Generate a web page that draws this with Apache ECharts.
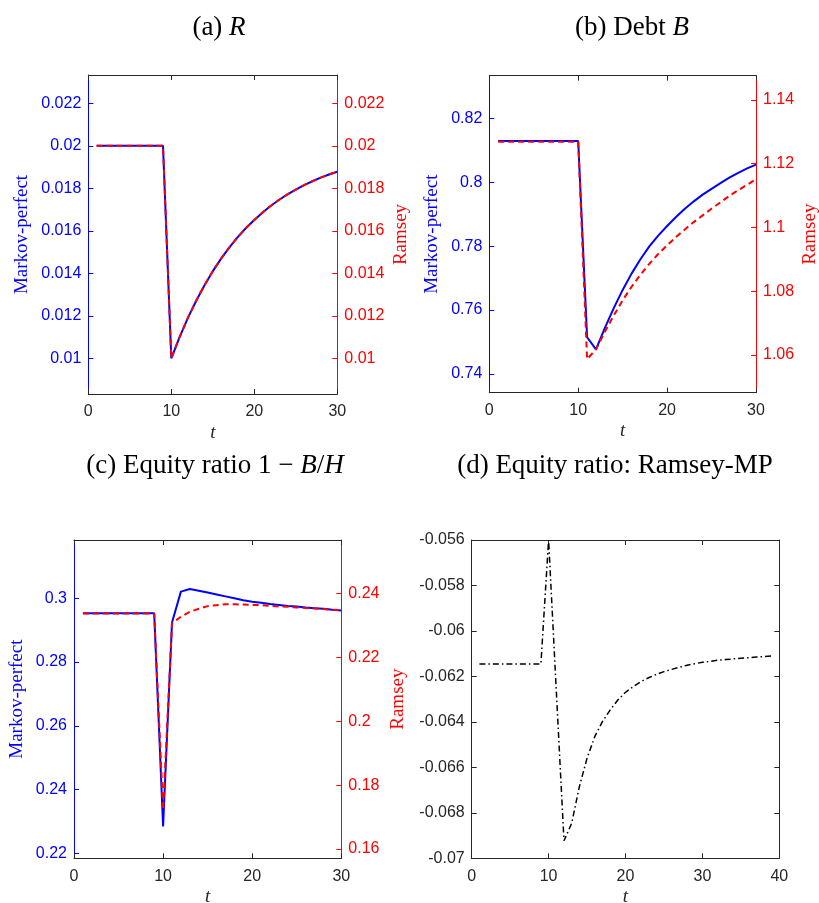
<!DOCTYPE html>
<html>
<head>
<meta charset="utf-8">
<script src="https://cdn.jsdelivr.net/npm/echarts@6/dist/echarts.min.js"></script>
<style>html,body{margin:0;padding:0;background:#fff}#c{width:819px;height:903px}</style>
</head>
<body>
<div id="c"></div>
<script>
// ---- data ----
var t30 = [1,2,3,4,5,6,7,8,9,10,11,12,13,14,15,16,17,18,19,20,21,22,23,24,25,26,27,28,29,30];
var t39 = [1,2,3,4,5,6,7,8,9,10,11,12,13,14,15,16,17,18,19,20,21,22,23,24,25,26,27,28,29,30,31,32,33,34,35,36,37,38,39];

var rMP = [0.02,0.02,0.02,0.02,0.02,0.02,0.02,0.02,0.02,0.0100,0.0110,0.0119,0.01271,0.01344,0.01410,0.01469,0.01522,0.01570,0.01613,0.01651,0.01686,0.01718,0.01746,0.01771,0.01794,0.01815,0.01833,0.01850,0.01865,0.01878];
var rRamsey = [0.02,0.02,0.02,0.02,0.02,0.02,0.02,0.02,0.02,0.0100,0.0110,0.0119,0.01271,0.01344,0.01410,0.01469,0.01522,0.01570,0.01613,0.01651,0.01686,0.01718,0.01746,0.01771,0.01794,0.01815,0.01833,0.01850,0.01865,0.01878];

var bMP = [0.8129,0.8129,0.8129,0.8129,0.8129,0.8129,0.8129,0.8129,0.8129,0.8129,0.7515,0.7477,0.7544,0.7606,0.7663,0.7714,0.7759,0.7799,0.7833,0.7863,0.7891,0.7917,0.7940,0.7961,0.7979,0.7997,0.8014,0.8029,0.8043,0.8055];
var bRamsey = [1.1269,1.1269,1.1269,1.1269,1.1269,1.1269,1.1269,1.1269,1.1269,1.1269,1.0587,1.0618,1.0673,1.0724,1.0772,1.0814,1.0852,1.0886,1.0917,1.0944,1.0970,1.0994,1.1017,1.1038,1.1059,1.1079,1.1099,1.1117,1.1134,1.1151];

var eMP = [0.2953,0.2953,0.2953,0.2953,0.2953,0.2953,0.2953,0.2953,0.2953,0.2284,0.2924,0.3021,0.3029,0.3024,0.3018,0.3012,0.3006,0.3000,0.2994,0.2989,0.2986,0.2982,0.2979,0.2976,0.2974,0.2971,0.2969,0.2967,0.2964,0.2962];
var eRamsey = [0.2337,0.2337,0.2337,0.2337,0.2337,0.2337,0.2337,0.2337,0.2337,0.1722,0.2306,0.2327,0.2342,0.2352,0.2360,0.2363,0.2366,0.2366,0.2365,0.2364,0.2363,0.2361,0.2359,0.2358,0.2356,0.2354,0.2353,0.2351,0.2349,0.2348];

var eDiff = [-0.06145,-0.06145,-0.06145,-0.06145,-0.06145,-0.06145,-0.06145,-0.06145,-0.06145,-0.0560,-0.06262,-0.06923,-0.06846,-0.06685,-0.06560,-0.06465,-0.06399,-0.06348,-0.06304,-0.06270,-0.06245,-0.06223,-0.06206,-0.06191,-0.06179,-0.06169,-0.06160,-0.06151,-0.06144,-0.06138,-0.06134,-0.06129,-0.06126,-0.06123,-0.06120,-0.06118,-0.06115,-0.06113,-0.06110];

// tick labels
var xTicks30 = [0,10,20,30];
var xTicks40 = [0,10,20,30,40];
var aTicks = [0.01,0.012,0.014,0.016,0.018,0.02,0.022];
var bTicksL = [0.74,0.76,0.78,0.8,0.82];
var bTicksR = [1.06,1.08,1.1,1.12,1.14];
var cTicksL = [0.22,0.24,0.26,0.28,0.3];
var cTicksR = [0.16,0.18,0.2,0.22,0.24];
var dTicks = [-0.07,-0.068,-0.066,-0.064,-0.062,-0.06,-0.058,-0.056];

function pairs(xs, ys){ return xs.map(function(x,i){ return [x, ys[i]]; }); }

var BLUE = '#0000ff', RED = '#ff0000', GREY = '#262626';
var SERIF = 'Liberation Serif';
var SANS = 'Liberation Sans';

function fmt(v){ return String(parseFloat(v.toFixed(4))); }

function xAxes(gi, max, ticks){
  return [{
    type:'value', gridIndex:gi, min:0, max:max, position:'bottom',
    axisLine:{show:true, onZero:false, lineStyle:{color:GREY, width:1}},
    axisTick:{show:true, inside:true, length:5, customValues:ticks, lineStyle:{color:GREY}},
    axisLabel:{show:true, customValues:ticks, color:GREY, fontSize:16, fontFamily:SANS, margin:10},
    splitLine:{show:false},
    name:'t', nameLocation:'middle', nameGap:29,
    nameTextStyle:{fontFamily:SERIF, fontStyle:'italic', fontSize:19, color:GREY}
  },{
    type:'value', gridIndex:gi, min:0, max:max, position:'top',
    axisLine:{show:true, onZero:false, lineStyle:{color:GREY, width:1}},
    axisTick:{show:true, inside:true, length:5, customValues:ticks, lineStyle:{color:GREY}},
    axisLabel:{show:false}, splitLine:{show:false}
  }];
}

function yAxis(gi, pos, min, max, ticks, color, name, nameGap, showLabel){
  var o = {
    type:'value', gridIndex:gi, min:min, max:max, position:pos,
    axisLine:{show:true, onZero:false, lineStyle:{color:color, width:1}},
    axisTick:{show:true, inside:true, length:5, customValues:ticks, lineStyle:{color:color}},
    axisLabel:{show:showLabel, customValues:ticks, color:color, fontSize:16, fontFamily:SANS, margin:7, formatter:fmt},
    splitLine:{show:false}
  };
  if (name){
    o.name = name; o.nameLocation = 'middle'; o.nameGap = nameGap; o.nameRotate = 90;
    o.nameTextStyle = {fontFamily:SERIF, fontSize:19, color:color};
  }
  return o;
}

var grids = [
  {left:88.3, top:75, width:249, height:319, outerBoundsMode:'none'},
  {left:489.3, top:75.7, width:266.7, height:317, outerBoundsMode:'none'},
  {left:74, top:540, width:267.3, height:318.3, outerBoundsMode:'none'},
  {left:471.7, top:540, width:307.6, height:318.3, outerBoundsMode:'none'}
];

var xA = [].concat(xAxes(0,30,xTicks30), xAxes(1,30,xTicks30), xAxes(2,30,xTicks30), xAxes(3,40,xTicks40));
var yA = [
  yAxis(0,'left',0.00832,0.02333,aTicks,BLUE,'Markov-perfect',57,true),
  yAxis(0,'right',0.00832,0.02333,aTicks,RED,'Ramsey',54,true),
  yAxis(1,'left',0.73415,0.8333,bTicksL,BLUE,'Markov-perfect',48,true),
  yAxis(1,'right',1.0482,1.1476,bTicksR,RED,'Ramsey',45,true),
  yAxis(2,'left',0.2184,0.3183,cTicksL,BLUE,'Markov-perfect',47,true),
  yAxis(2,'right',0.1571,0.2567,cTicksR,RED,'Ramsey',47,true),
  yAxis(3,'left',-0.07,-0.056,dTicks,GREY,null,0,true),
  yAxis(3,'right',-0.07,-0.056,dTicks,GREY,null,0,false)
];

function line(xi, yi, data, color, type){
  return {type:'line', xAxisIndex:xi, yAxisIndex:yi, data:data, symbol:'none', silent:true, animation:false,
    lineStyle:{color:color, width:2, type:type}};
}

var series = [
  line(0,0,pairs(t30,rMP),BLUE,'solid'),
  line(0,1,pairs(t30,rRamsey),RED,[6,4]),
  line(2,2,pairs(t30,bMP),BLUE,'solid'),
  line(2,3,pairs(t30,bRamsey),RED,[6,4]),
  line(4,4,pairs(t30,eMP),BLUE,'solid'),
  line(4,5,pairs(t30,eRamsey),RED,[6,4]),
  line(6,6,pairs(t39,eDiff),'#000000',[6,3,1.5,3])
];
series[6].lineStyle.width = 1.5;

var titleStyle = {fontFamily:SERIF, fontSize:27, fontWeight:'normal', color:'#000',
  rich:{i:{fontFamily:SERIF, fontStyle:'italic', fontSize:27, color:'#000'}}};

var titles = [
  {text:'(a) {i|R}', left:214, top:9, textAlign:'center'},
  {text:'(b) Debt {i|B}', left:627, top:9, textAlign:'center'},
  {text:'(c) Equity ratio 1 \u2212 {i|B}/{i|H}', left:210, top:447, textAlign:'center'},
  {text:'(d) Equity ratio: Ramsey-MP', left:610, top:447, textAlign:'center'}
].map(function(t){ t.textStyle = titleStyle; return t; });

var chart = echarts.init(document.getElementById('c'), null, {renderer:'canvas'});
chart.setOption({
  animation:false,
  backgroundColor:'#ffffff',
  title: titles,
  grid: grids,
  xAxis: xA,
  yAxis: yA,
  series: series
});
</script>
</body>
</html>
